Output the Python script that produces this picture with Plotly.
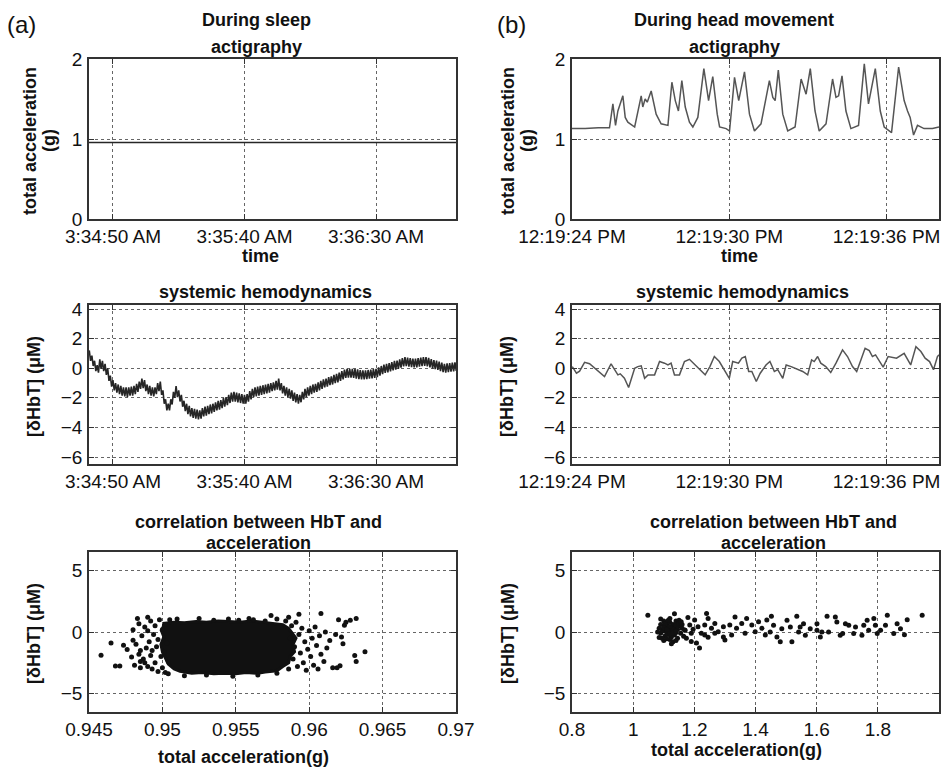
import plotly.graph_objects as go

W, H = 942, 770
FONT = "Arial, Liberation Sans, Helvetica, sans-serif"

# ---------------- data ----------------
# (a) sleep: actigraphy (seconds after 3:34:00 AM)
sleep_acc_t = [40.9, 55, 70, 85, 100, 115, 130, 145, 160, 175, 180.4]
sleep_acc_g = [0.955, 0.956, 0.954, 0.955, 0.956, 0.955, 0.954, 0.955, 0.956, 0.955, 0.955]
sleep_tickvals = [50, 100, 150]
sleep_ticktext = ["3:34:50 AM", "3:35:40 AM", "3:36:30 AM"]

# (a) sleep: HbT, two samples per second from 41 s to 180.5 s
sleep_hbt_t0 = 41.0
sleep_hbt_dt = 0.5
sleep_hbt = [
    1.2, 0.5, 0.85, 0.15, 0.5, -0.2, 0.2, -0.3, 0.6, -0.05,
    0.5, -0.2, 0.3, -0.45, 0.0, -0.85, -0.5, -1.25, -0.8, -1.5,
    -1.0, -1.65, -1.1, -1.75, -1.2, -1.85, -1.3, -1.9, -1.3, -1.95,
    -1.3, -1.85, -1.25, -1.85, -1.2, -1.75, -1.05, -1.6, -0.9, -1.4,
    -0.7, -1.35, -0.8, -1.55, -1.1, -1.75, -1.2, -1.85, -1.3, -1.9,
    -1.3, -1.75, -1.0, -1.55, -0.9, -1.8, -1.5, -2.4, -2.1, -2.85,
    -2.4, -2.85, -2.1, -2.45, -1.6, -2.0, -1.2, -1.95, -1.5, -2.25,
    -1.8, -2.6, -2.2, -2.9, -2.4, -3.1, -2.55, -3.25, -2.7, -3.35,
    -2.75, -3.4, -2.8, -3.45, -2.85, -3.4, -2.7, -3.25, -2.6, -3.2,
    -2.55, -3.1, -2.45, -3.05, -2.4, -2.95, -2.3, -2.85, -2.2, -2.8,
    -2.15, -2.7, -2.0, -2.6, -1.95, -2.5, -1.8, -2.35, -1.65, -2.25,
    -1.6, -2.25, -1.65, -2.3, -1.7, -2.35, -1.75, -2.4, -1.8, -2.4,
    -1.75, -2.25, -1.55, -2.1, -1.4, -1.95, -1.3, -1.9, -1.25, -1.85,
    -1.2, -1.8, -1.15, -1.75, -1.1, -1.7, -1.05, -1.65, -1.0, -1.55,
    -0.95, -1.5, -0.85, -1.45, -0.7, -1.5, -1.0, -1.7, -1.2, -1.85,
    -1.3, -1.95, -1.4, -2.05, -1.5, -2.2, -1.65, -2.3, -1.75, -2.4,
    -1.8, -2.3, -1.6, -2.1, -1.4, -1.95, -1.3, -1.85, -1.2, -1.75,
    -1.1, -1.65, -1.05, -1.6, -0.95, -1.5, -0.85, -1.4, -0.75, -1.3,
    -0.7, -1.25, -0.6, -1.15, -0.55, -1.1, -0.45, -1.0, -0.38, -0.95,
    -0.3, -0.85, -0.2, -0.75, -0.1, -0.65, -0.04, -0.64, -0.04, -0.64,
    -0.04, -0.66, -0.04, -0.7, -0.08, -0.74, -0.12, -0.75, -0.15, -0.75,
    -0.15, -0.74, -0.12, -0.71, -0.1, -0.68, -0.06, -0.65, -0.04, -0.6,
    0.05, -0.5, 0.15, -0.4, 0.25, -0.32, 0.3, -0.28, 0.35, -0.22,
    0.42, -0.14, 0.5, -0.09, 0.52, -0.04, 0.6, 0.04, 0.68, 0.12,
    0.75, 0.14, 0.72, 0.1, 0.68, 0.07, 0.65, 0.05, 0.64, 0.06,
    0.68, 0.1, 0.72, 0.14, 0.75, 0.15, 0.75, 0.12, 0.7, 0.06,
    0.62, -0.02, 0.55, -0.07, 0.52, -0.12, 0.45, -0.19, 0.38, -0.26,
    0.3, -0.29, 0.32, -0.26, 0.35, -0.23, 0.38, -0.21, 0.4, -0.18,
]
sleep_hbt_t = [sleep_hbt_t0 + sleep_hbt_dt * i for i in range(len(sleep_hbt))]

# (b) head movement: actigraphy (seconds after 12:19:00 PM)
move_acc_t = [24.0, 24.5, 25.0, 25.43, 25.56, 25.66, 25.75, 25.94, 26.03, 26.13,
              26.39, 26.64, 26.70, 26.79, 26.87, 27.02, 27.21, 27.40, 27.66, 27.81,
              27.94, 28.06, 28.19, 28.32, 28.48, 28.61, 28.80, 29.03, 29.21, 29.37,
              29.54, 29.63, 29.88, 30.01, 30.20, 30.36, 30.58, 30.77, 30.96, 31.21,
              31.53, 31.66, 31.75, 31.87, 32.04, 32.23, 32.51, 32.74, 32.93, 33.09,
              33.27, 33.43, 33.69, 33.94, 34.07, 34.17, 34.30, 34.45, 34.64, 34.93,
              35.15, 35.31, 35.57, 35.76, 35.91, 36.19, 36.46, 36.67, 36.80, 36.90,
              37.03, 37.18, 37.43, 37.75, 38.0]
move_acc_g = [1.13, 1.13, 1.14, 1.14, 1.44, 1.17, 1.35, 1.54, 1.27, 1.21,
              1.15, 1.54, 1.40, 1.50, 1.46, 1.60, 1.31, 1.19, 1.17, 1.71,
              1.48, 1.35, 1.73, 1.40, 1.21, 1.15, 1.27, 1.88, 1.48, 1.78,
              1.31, 1.15, 1.13, 1.10, 1.77, 1.48, 1.84, 1.31, 1.10, 1.19,
              1.73, 1.52, 1.48, 1.86, 1.31, 1.10, 1.15, 1.75, 1.56, 1.88,
              1.35, 1.10, 1.19, 1.75, 1.52, 1.54, 1.79, 1.35, 1.13, 1.17,
              1.94, 1.44, 1.88, 1.35, 1.15, 1.08, 1.90, 1.48, 1.35, 1.27,
              1.05, 1.17, 1.13, 1.13, 1.15]
move_tickvals = [24, 30, 36]
move_ticktext = ["12:19:24 PM", "12:19:30 PM", "12:19:36 PM"]

# (b) head movement: HbT
move_hbt_t = [24.01, 24.17, 24.29, 24.48, 24.67, 24.92, 25.24, 25.49, 25.62, 25.75,
              25.84, 26.00, 26.16, 26.29, 26.39, 26.51, 26.64, 26.77, 26.90, 27.15,
              27.34, 27.53, 27.66, 27.78, 27.91, 28.10, 28.29, 28.48, 28.73, 28.92,
              29.08, 29.26, 29.43, 29.62, 29.85, 30.00, 30.13, 30.35, 30.48, 30.61,
              30.74, 30.86, 31.03, 31.18, 31.40, 31.55, 31.72, 31.85, 32.04, 32.17,
              32.36, 32.61, 32.80, 32.99, 33.14, 33.24, 33.37, 33.49, 33.68, 33.87,
              34.07, 34.32, 34.51, 34.70, 34.86, 35.02, 35.18, 35.34, 35.46, 35.58,
              35.70, 35.87, 36.06, 36.25, 36.38, 36.67, 36.92, 37.12, 37.31, 37.47,
              37.64, 37.79, 37.94, 38.0]
move_hbt = [0.11, -0.34, -0.2, 0.4, 0.3, -0.1, -0.56, 0.3, -0.1, -0.45,
            -0.38, -0.68, -1.3, -0.56, 0.0, 0.11, 0.16, -0.68, -0.45, -0.45,
            0.45, 0.34, 0.22, 0.34, -0.45, -0.45, 0.45, 0.6, 0.16, -0.22,
            -0.45, 0.11, 0.79, 0.45, -0.22, -0.68, 0.45, 0.34, 0.68, 0.79,
            -0.22, -0.22, -0.9, -0.34, 0.22, 0.45, -0.22, -0.1, -0.68, 0.22,
            0.11, -0.1, -0.22, -0.45, 0.56, 0.45, 0.79, 0.34, 0.11, -0.29,
            0.34, 1.24, 0.79, 0.11, -0.22, 0.56, 1.35, 1.19, 0.79, 0.9,
            0.56, 0.07, 0.79, 0.74, 0.68, 1.01, 0.22, 1.46, 1.13, 0.68,
            0.45, -0.1, 0.79, 0.9]

# (a) correlation scatter: saturated core outline + individual points
sleep_core_x = [0.9500, 0.9508, 0.9515, 0.9523, 0.9530, 0.9538, 0.9545, 0.9553, 0.9560, 0.9567,
                0.9572, 0.9578, 0.9582, 0.9586, 0.9588, 0.9591, 0.9589, 0.9590, 0.9587, 0.9586,
                0.9582, 0.9578, 0.9570, 0.9565, 0.9557, 0.9550, 0.9542, 0.9535, 0.9527, 0.9520,
                0.9512, 0.9508, 0.9504, 0.9502, 0.9500, 0.9499, 0.9501, 0.9499]
sleep_core_y = [0.7, 0.8, 0.75, 0.85, 0.8, 0.9, 0.85, 0.8, 0.9, 0.8,
                0.75, 0.7, 0.6, 0.3, 0.0, -0.5, -1.0, -1.6, -2.0, -2.5,
                -2.8, -3.15, -3.25, -3.35, -3.3, -3.4, -3.35, -3.4, -3.3, -3.35,
                -3.2, -3.0, -2.6, -2.1, -1.6, -1.0, -0.4, 0.2]
sleep_sc_x = [0.94582, 0.9465, 0.9468, 0.9471, 0.94735, 0.9476, 0.9480, 0.9480, 0.9479, 0.9481,
              0.9483, 0.9484, 0.9490, 0.9485, 0.9485,
              0.9482, 0.9484, 0.9486, 0.9487, 0.9488, 0.9489, 0.9490, 0.9491, 0.9492, 0.9492,
              0.9493, 0.9494, 0.9495, 0.9495, 0.9496, 0.9497, 0.9497, 0.9498, 0.9499, 0.9500,
              0.9500, 0.9501, 0.9502, 0.9502, 0.9503, 0.9504, 0.9504, 0.9505, 0.9485, 0.9490,
              0.9493, 0.9488,
              0.9584, 0.9586, 0.9587, 0.9588, 0.9589, 0.9590, 0.9591, 0.9592, 0.9593, 0.9594,
              0.9595, 0.9596, 0.9597, 0.9598, 0.9599, 0.9600, 0.9601, 0.9602, 0.9603, 0.9604,
              0.9605, 0.9606, 0.9607, 0.9608, 0.9610, 0.9611, 0.9612, 0.9614, 0.9616, 0.9618,
              0.9622, 0.9623, 0.9624, 0.9625, 0.9631, 0.9632, 0.9638, 0.9628, 0.9632, 0.9620,
              0.9619, 0.9621, 0.9608, 0.9593, 0.9586, 0.9574, 0.9559,
              0.9510, 0.9525, 0.9535, 0.9545, 0.9552, 0.9562, 0.9570, 0.9578,
              0.9515, 0.9530, 0.9548, 0.9565, 0.9578]
sleep_sc_y = [-1.89, -0.9, -2.76, -2.76, -1.08, -1.43, -0.67, 0.19, -2.03, -2.7,
              1.09, 0.68, 1.2, -1.5, -2.4,
              -1.0, -1.8, -0.3, -2.2, 0.4, -1.3, -2.8, -0.8, 0.9, -1.9,
              -3.0, -0.2, -2.5, 0.5, -1.2, -3.2, -0.6, 1.0, -2.0, -2.9,
              0.2, -1.6, -3.3, 0.6, -0.9, -2.4, -3.4, 1.0, -2.9, 0.1,
              -1.5, -2.5,
              0.9, -3.0, -0.5, 0.5, -2.2, -1.2, 0.8, -2.8, -0.2, -1.7,
              0.3, -2.5, -0.8, -3.1, -1.4, 0.1, -2.0, -0.5, -2.7, 0.4,
              -1.1, -3.0, -0.3, -1.8, -2.4, 0.0, -1.3, -0.7, -2.9, -0.2,
              -0.4, -0.95, 0.54, 0.8, -1.9, -2.4, -1.6, 0.95, 1.1, 1.0,
              -2.9, -2.75, 1.5, 1.45, 1.2, 1.35, 1.1,
              1.05, 1.1, 0.95, 1.05, 0.95, 1.0, 0.9, 1.05,
              -3.55, -3.5, -3.6, -3.5, -3.35]

# (b) correlation scatter
move_sc_x = [1.048,
             1.10, 1.11, 1.12, 1.13, 1.14, 1.15, 1.10, 1.105, 1.115, 1.125,
             1.135, 1.145, 1.10, 1.11, 1.12, 1.13, 1.14, 1.09, 1.095, 1.105,
             1.115, 1.125, 1.135, 1.145, 1.12, 1.13, 1.11, 1.09, 1.085, 1.09,
             1.12, 1.15, 1.16, 1.155, 1.10, 1.14, 1.125, 1.08, 1.085, 1.115,
             1.13, 1.12, 1.105, 1.14, 1.15, 1.10, 1.12, 1.13, 1.11, 1.14,
             1.095, 1.16, 1.17, 1.165,
             1.135, 1.179, 1.157, 1.185, 1.168, 1.190, 1.174, 1.190, 1.207, 1.217,
             1.201, 1.212, 1.196, 1.223, 1.240, 1.245, 1.234, 1.256, 1.245, 1.267,
             1.278, 1.295, 1.300, 1.316, 1.322, 1.333, 1.338, 1.355, 1.366, 1.371,
             1.388, 1.399, 1.410, 1.421, 1.432, 1.437, 1.295, 1.267, 1.234,
             1.452, 1.459, 1.448, 1.470, 1.486, 1.481, 1.503, 1.514, 1.519, 1.535,
             1.541, 1.557, 1.563, 1.579, 1.601, 1.612, 1.617, 1.634, 1.639, 1.661,
             1.666, 1.677, 1.694, 1.705, 1.721, 1.727, 1.748, 1.765, 1.770, 1.787,
             1.792, 1.798, 1.809, 1.825, 1.831, 1.852, 1.863, 1.874, 1.887, 1.896,
             1.945, 1.685, 1.754, 1.601, 1.546]
move_sc_y = [1.36,
             0.9, 0.7, 0.8, 0.6, 0.9, 0.5, 0.5, 0.3, 0.4, 0.3,
             0.35, 0.2, 0.1, 0.0, 0.15, 0.05, -0.05, -0.1, 0.2, -0.3,
             -0.2, -0.4, -0.25, -0.5, -0.6, -0.8, -0.55, 0.6, 0.3, 1.05,
             1.1, 0.95, 0.3, -0.1, -0.7, -0.7, -0.95, 0.0, -0.45, 0.95,
             0.25, 0.45, 0.65, 0.55, 0.75, 0.35, -0.15, -0.1, 0.2, 0.1,
             -0.5, 0.6, 0.15, -0.35,
             1.49, 1.17, 0.84, 0.57, 0.16, -0.1, -0.5, -0.77, -0.9, -1.3,
             0.98, 0.43, 0.22, -0.1, 1.5, 1.09, 0.57, 0.3, -0.43, 0.7,
             0.03, 0.43, -0.65, 0.57, -0.24, 1.22, 0.3, 0.7, -0.1, 1.09,
             0.57, 0.03, 0.84, 0.3, -0.24, 0.98, -0.4, -0.1, -0.24,
             1.28, 0.55, 0.0, -0.4, 0.27, -0.8, 0.95, 0.41, -0.8, 1.28,
             0.0, 0.68, -0.27, 0.27, 0.68, -0.4, 0.0, 1.28, 0.0, 1.22,
             0.81, -0.27, 0.68, 0.54, -0.13, 0.41, -0.27, 0.95, 0.14, 1.09,
             0.54, -0.13, 0.14, 0.54, 1.36, -0.13, 0.68, 0.27, -0.22, 1.0,
             1.36, -0.13, 0.54, 0.14, 0.41]

sleep_sc_ticks = [0.945, 0.95, 0.955, 0.96, 0.965, 0.97]
sleep_sc_ticktext = ["0.945", "0.95", "0.955", "0.96", "0.965", "0.97"]
move_sc_ticks = [0.8, 1, 1.2, 1.4, 1.6, 1.8]
move_sc_ticktext = ["0.8", "1", "1.2", "1.4", "1.6", "1.8"]

# ---------------- figure ----------------
fig = go.Figure()

LINE_DARK = "#262626"
LINE_GRAY = "#555555"

fig.add_trace(go.Scatter(x=sleep_acc_t, y=sleep_acc_g, mode="lines",
                         line=dict(color=LINE_DARK, width=1.5), xaxis="x", yaxis="y"))
fig.add_trace(go.Scatter(x=move_acc_t, y=move_acc_g, mode="lines",
                         line=dict(color=LINE_GRAY, width=1.5), xaxis="x2", yaxis="y2"))
fig.add_trace(go.Scatter(x=sleep_hbt_t, y=sleep_hbt, mode="lines",
                         line=dict(color=LINE_DARK, width=1.6), xaxis="x3", yaxis="y3"))
fig.add_trace(go.Scatter(x=move_hbt_t, y=move_hbt, mode="lines",
                         line=dict(color=LINE_GRAY, width=1.5), xaxis="x4", yaxis="y4"))
fig.add_trace(go.Scatter(x=sleep_core_x, y=sleep_core_y, mode="lines", fill="toself",
                         fillcolor="#111111", line=dict(color="#111111", width=3),
                         xaxis="x5", yaxis="y5"))
fig.add_trace(go.Scatter(x=sleep_sc_x, y=sleep_sc_y, mode="markers",
                         marker=dict(color="#111111", size=5), xaxis="x5", yaxis="y5"))
fig.add_trace(go.Scatter(x=move_sc_x, y=move_sc_y, mode="markers",
                         marker=dict(color="#111111", size=5), xaxis="x6", yaxis="y6"))

# screen pixel -> paper fraction (page margin removed by post_script)
def dx(px):
    return px / W

def dy(py):
    return 1 - py / H

col_l = [dx(89), dx(456)]
col_r = [dx(572), dx(939)]
row1 = [dy(219), dy(59)]
row2 = [dy(464), dy(305)]
row3 = [dy(712), dy(552)]

tickfont = dict(family=FONT, size=19, color="#111")

def ax(domain, anchor, rng, tickvals, ticktext=None, is_x=True):
    d = dict(domain=domain, anchor=anchor, range=rng, tickvals=tickvals,
             showline=True, mirror="ticks", linecolor="#333", linewidth=1.5,
             ticks="inside", ticklen=5, tickcolor="#333", tickwidth=1,
             showgrid=True, gridcolor="#666", griddash="dot", gridwidth=1,
             zeroline=False, tickfont=tickfont, automargin=False)
    if is_x:
        d["ticklabelstandoff"] = -1
        d["ticklabeloverflow"] = "allow"
    else:
        d["ticklabelstandoff"] = 1
    if ticktext is not None:
        d["ticktext"] = ticktext
    return d

fig.update_layout(
    width=W, height=H, margin=dict(l=0, r=0, t=0, b=0),
    paper_bgcolor="white", plot_bgcolor="white", showlegend=False,
    xaxis=ax(col_l, "y", [40.9, 180.4], sleep_tickvals, sleep_ticktext),
    yaxis=ax(row1, "x", [0, 2], [0, 1, 2], is_x=False),
    xaxis2=ax(col_r, "y2", [24, 38], move_tickvals, move_ticktext),
    yaxis2=ax(row1, "x2", [0, 2], [0, 1, 2], is_x=False),
    xaxis3=ax(col_l, "y3", [40.9, 180.4], sleep_tickvals, sleep_ticktext),
    yaxis3=ax(row2, "x3", [-6.47, 4.27], [-6, -4, -2, 0, 2, 4], is_x=False),
    xaxis4=ax(col_r, "y4", [24, 38], move_tickvals, move_ticktext),
    yaxis4=ax(row2, "x4", [-6.47, 4.27], [-6, -4, -2, 0, 2, 4], is_x=False),
    xaxis5=ax(col_l, "y5", [0.945, 0.97], sleep_sc_ticks, sleep_sc_ticktext),
    yaxis5=ax(row3, "x5", [-6.5, 6.5], [-5, 0, 5], is_x=False),
    xaxis6=ax(col_r, "y6", [0.8, 2.0], move_sc_ticks, move_sc_ticktext),
    yaxis6=ax(row3, "x6", [-6.5, 6.5], [-5, 0, 5], is_x=False),
)

def txt(x, y, s, size=18, angle=0):
    fig.add_annotation(x=dx(x), y=dy(y), xref="paper", yref="paper", text=s,
                       showarrow=False, textangle=angle, xanchor="center", yanchor="middle",
                       font=dict(family=FONT, size=size, color="#111"))

B = lambda s: "<b>" + s + "</b>"

# panel letters
txt(21, 24, "(a)", size=24)
txt(511, 24, "(b)", size=24)

# titles
txt(256, 20, B("During sleep"))
txt(256, 47, B("actigraphy"))
txt(734, 20, B("During head movement"))
txt(734, 47, B("actigraphy"))
txt(265, 292, B("systemic hemodynamics"))
txt(742, 292, B("systemic hemodynamics"))
txt(258, 522, B("correlation between HbT and"))
txt(258, 543, B("acceleration"))
txt(773, 522, B("correlation between HbT and"))
txt(773, 543, B("acceleration"))

# x labels
txt(260, 256, B("time"))
txt(739, 256, B("time"))
txt(243, 757, B("total acceleration(g)"))
txt(736, 750, B("total acceleration(g)"))

# y labels
txt(30, 141, B("total acceleration"), angle=-90)
txt(49, 141, B("(g)"), angle=-90)
txt(508, 141, B("total acceleration"), angle=-90)
txt(527, 141, B("(g)"), angle=-90)
txt(34, 387, B("[δHbT] (μM)"), angle=-90)
txt(507, 387, B("[δHbT] (μM)"), angle=-90)
txt(34, 634, B("[δHbT] (μM)"), angle=-90)
txt(508, 634, B("[δHbT] (μM)"), angle=-90)

fig.write_html(
    "out.html",
    config={"displayModeBar": False},
    post_script=("document.documentElement.style.margin='0';"
                 "document.body.style.margin='0';"
                 "document.body.style.overflow='hidden';"
                 "document.documentElement.style.overflow='hidden';"),
)
